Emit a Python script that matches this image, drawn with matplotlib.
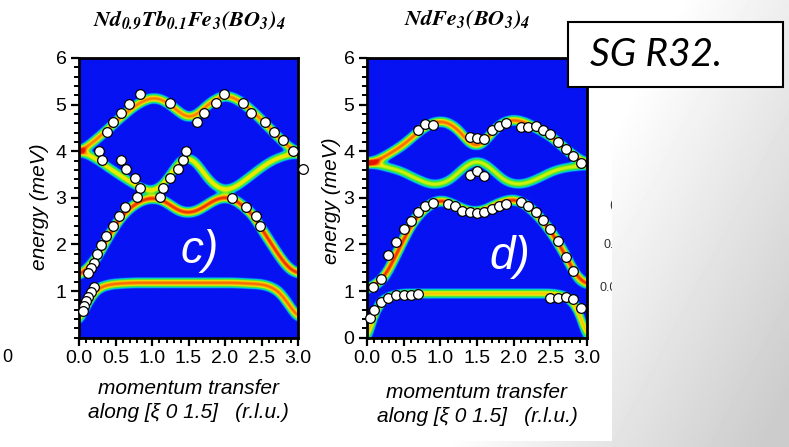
import numpy as np
import matplotlib.pyplot as plt
from matplotlib.colors import LinearSegmentedColormap
from matplotlib.ticker import MultipleLocator, FixedLocator
from matplotlib.patches import Rectangle

plt.rcParams['font.family'] = ['Liberation Sans', 'DejaVu Sans']
plt.rcParams['mathtext.fontset'] = 'stix'

W, H = 789, 447

# momentum values at which the calculated branches were read (r.l.u.)
q_knots = [0.0, 0.125, 0.25, 0.375, 0.5, 0.625, 0.75, 0.875, 1.0, 1.125, 1.25, 1.375, 1.5,
           1.625, 1.75, 1.875, 2.0, 2.125, 2.25, 2.375, 2.5, 2.625, 2.75, 2.875, 3.0]

# Nd0.9Tb0.1Fe3(BO3)4 - calculated branches (meV)
c_branch1 = [4.0, 4.12, 4.28, 4.45, 4.63, 4.8, 4.96, 5.08, 5.15, 5.12, 5.0, 4.84, 4.72, 4.8,
             4.98, 5.12, 5.2, 5.15, 5.03, 4.87, 4.68, 4.48, 4.28, 4.1, 3.98]
c_branch2 = [4.0, 3.93, 3.82, 3.68, 3.55, 3.42, 3.3, 3.2, 3.15, 3.25, 3.5, 3.78, 3.88, 3.72,
             3.45, 3.25, 3.17, 3.22, 3.35, 3.5, 3.65, 3.78, 3.87, 3.93, 3.95]
c_branch3 = [1.35, 1.5, 1.75, 2.1, 2.42, 2.68, 2.85, 2.96, 3.0, 2.97, 2.85, 2.72, 2.68, 2.73,
             2.85, 2.97, 3.02, 2.97, 2.83, 2.65, 2.35, 2.05, 1.75, 1.5, 1.38]
c_branch4 = [0.4, 0.78, 1.05, 1.13, 1.16, 1.17, 1.18, 1.18, 1.18, 1.18, 1.18, 1.18, 1.18, 1.18,
             1.18, 1.18, 1.18, 1.18, 1.17, 1.16, 1.15, 1.1, 0.98, 0.72, 0.45]
c_weights = [0.82, 0.62, 0.95, 0.85]

# NdFe3(BO3)4 - calculated branches (meV)
d_branch1 = [3.75, 3.8, 3.9, 4.02, 4.15, 4.32, 4.48, 4.6, 4.65, 4.6, 4.45, 4.22, 4.1, 4.25,
             4.48, 4.63, 4.68, 4.64, 4.55, 4.45, 4.33, 4.17, 4.0, 3.85, 3.75]
d_branch2 = [3.75, 3.72, 3.67, 3.62, 3.55, 3.45, 3.36, 3.29, 3.3, 3.38, 3.55, 3.72, 3.8, 3.72,
             3.55, 3.38, 3.3, 3.3, 3.36, 3.45, 3.55, 3.62, 3.66, 3.68, 3.7]
d_branch3 = [1.05, 1.15, 1.35, 1.72, 2.12, 2.48, 2.72, 2.88, 2.95, 2.9, 2.8, 2.72, 2.7, 2.75,
             2.85, 2.93, 2.97, 2.9, 2.75, 2.55, 2.3, 2.0, 1.65, 1.3, 1.15]
d_branch4 = [0.0, 0.62, 0.85, 0.92, 0.95, 0.95, 0.95, 0.95, 0.95, 0.95, 0.95, 0.95, 0.95, 0.95,
             0.95, 0.95, 0.95, 0.95, 0.95, 0.95, 0.95, 0.93, 0.86, 0.62, 0.05]
d_weights = [0.85, 0.55, 0.95, 0.68]

# measured points, panel c
c_q = [0.28, 0.32, 0.38, 0.47, 0.58, 0.68, 0.83, 1.24, 1.61, 1.71, 1.87, 1.99, 2.25, 2.36,
       2.55, 2.67, 2.80, 2.93, 0.57, 0.65, 0.77, 0.84, 0.79, 1.11, 1.15, 1.24, 1.36, 1.42,
       1.46, 2.09, 2.29, 2.43, 2.48, 0.63, 0.55, 0.46, 0.37, 0.30, 0.24, 0.20, 0.16, 0.13,
       0.21, 0.16, 0.12, 0.10, 0.07, 0.05, 3.07]
c_e = [4.00, 3.82, 4.42, 4.62, 4.82, 5.02, 5.23, 5.04, 4.62, 4.82, 5.03, 5.23, 5.03, 4.82,
       4.62, 4.42, 4.23, 4.01, 3.81, 3.62, 3.42, 3.21, 3.01, 3.01, 3.21, 3.42, 3.62, 3.82,
       4.01, 3.00, 2.81, 2.61, 2.39, 2.81, 2.61, 2.39, 2.19, 1.99, 1.79, 1.61, 1.50, 1.39,
       1.09, 0.98, 0.88, 0.79, 0.68, 0.57, 3.62]

# measured points, panel d
d_q = [0.69, 0.79, 0.90, 1.40, 1.50, 1.60, 1.70, 1.80, 1.90, 2.10, 2.20, 2.30, 2.40, 2.50,
       2.61, 2.71, 2.81, 2.92, 1.40, 1.50, 1.60,
       0.08, 0.19, 0.29, 0.40, 0.50, 0.60, 0.70, 0.79, 0.90, 1.10, 1.20, 1.30, 1.40, 1.50,
       1.60, 1.70, 1.80, 1.90, 2.10, 2.20, 2.30, 2.40, 2.50, 2.61, 2.71, 2.81,
       0.04, 0.09, 0.19, 0.29, 0.40, 0.50, 0.60, 0.70, 2.50, 2.61, 2.71, 2.81, 2.92]
d_e = [4.46, 4.59, 4.57, 4.31, 4.29, 4.27, 4.45, 4.54, 4.61, 4.52, 4.51, 4.54, 4.46, 4.36,
       4.20, 4.04, 3.90, 3.75, 3.50, 3.58, 3.46,
       1.09, 1.25, 1.78, 2.06, 2.32, 2.50, 2.69, 2.82, 2.88, 2.86, 2.83, 2.71, 2.70, 2.68,
       2.70, 2.75, 2.83, 2.87, 2.91, 2.82, 2.70, 2.53, 2.32, 2.08, 1.74, 1.42,
       0.41, 0.59, 0.77, 0.86, 0.91, 0.91, 0.91, 0.93, 0.86, 0.86, 0.88, 0.82, 0.64]

band_cmap = LinearSegmentedColormap.from_list('band', [
    (0.0, '#0612f2'), (0.10, '#0612f2'), (0.20, '#00d8ff'), (0.34, '#22e23a'),
    (0.58, '#f4f400'), (0.80, '#ff8200'), (1.0, '#e81000')])


def smooth(y, n=15):
    k = np.ones(n) / n
    yp = np.pad(y, n, mode='edge')
    for _ in range(2):
        yp = np.convolve(yp, k, mode='same')
    return yp[n:-n]


def spectrum(branches, weights):
    qq = np.linspace(0, 3, 361)
    ee = np.linspace(0, 6, 721)
    img = np.zeros((ee.size, qq.size))
    for e_vals, w in zip(branches, weights):
        e = smooth(np.interp(qq, q_knots, e_vals))
        slope = np.gradient(e, qq) * (46.6 / 73.3)
        sig = 0.06 * np.sqrt(1 + slope ** 2)
        img += w * np.exp(-0.5 * ((ee[:, None] - e[None, :]) / sig[None, :]) ** 2)
    return np.clip(img, 0, 1)


fig = plt.figure(figsize=(W / 100, H / 100), dpi=100)

# slide background gradient
gx, gy = np.meshgrid(np.arange(W), np.arange(H))
t = np.clip((gx - 600) / 189 * 0.6 + (gy - 150) / 297 * 0.5, 0, 1)
bg = fig.add_axes([0, 0, 1, 1])
bg.imshow(1 - 0.2 * t, cmap='gray', vmin=0, vmax=1, aspect='auto')
bg.axis('off')

# white screenshot area
paper = fig.add_axes([0, 6 / H, 612 / W, 441 / H])
paper.set_xlim(0, 612)
paper.set_ylim(441, 0)
paper.set_facecolor('white')
paper.set_xticks([])
paper.set_yticks([])
for s in paper.spines.values():
    s.set_visible(False)
paper.text(2, 357, '0', fontsize=13, ha='left', va='center')
paper.text(600, 288, '0.0', fontsize=9, ha='left', va='center', color='#333333', clip_on=True)
paper.text(603, 245, '0.', fontsize=9, ha='left', va='center', color='#333333', clip_on=True)
paper.text(609, 205, '(', fontsize=9, ha='left', va='center', color='#333333', clip_on=True)


def panel(rect, branches, weights, pq, pe, tag, tag_xy, yticks, lab_x, lab_y, xl_y):
    ax = fig.add_axes(rect)
    ax.imshow(spectrum(branches, weights), extent=[0, 3, 0, 6], origin='lower',
              aspect='auto', cmap=band_cmap, vmin=0, vmax=1, interpolation='bilinear')
    ax.plot(pq, pe, 'o', ms=7, mfc='white', mec='black', mew=0.9, clip_on=False, zorder=5)
    ax.set_xlim(0, 3)
    ax.set_ylim(0, 6)
    ax.xaxis.set_major_locator(MultipleLocator(0.5))
    ax.xaxis.set_minor_locator(MultipleLocator(0.1))
    ax.yaxis.set_major_locator(FixedLocator(yticks))
    ax.yaxis.set_minor_locator(MultipleLocator(0.2))
    ax.set_xticklabels(['%.1f' % v for v in ax.get_xticks()])
    ax.tick_params(which='major', direction='out', length=6, width=1.6, labelsize=14, pad=3)
    ax.tick_params(which='minor', direction='out', length=3.5, width=1.4)
    for s in ax.spines.values():
        s.set_linewidth(2)
    ax.set_ylabel('energy (meV)', fontsize=15, style='italic')
    ax.yaxis.set_label_coords(lab_x, lab_y)
    ax.text(0.5, xl_y[0], 'momentum transfer', transform=ax.transAxes, ha='center',
            va='center', fontsize=15, style='italic')
    ax.text(0.5, xl_y[1], 'along [\u03be 0 1.5]   (r.l.u.)', transform=ax.transAxes,
            ha='center', va='center', fontsize=15, style='italic')
    ax.text(tag_xy[0], tag_xy[1], tag, color='white', fontsize=33, style='italic',
            ha='center', va='center')
    return ax


y0 = 1 - 337.6 / H
hgt = (337.6 - 58) / H
panel([79 / W, y0, 219 / W, hgt], [c_branch1, c_branch2, c_branch3, c_branch4], c_weights,
      c_q, c_e, 'c)', (1.65, 1.85), [1, 2, 3, 4, 5, 6], -0.137, 0.47,
      ((337.6 - 388) / 279.6, (337.6 - 412) / 279.6))
panel([367 / W, y0, 220 / W, hgt], [d_branch1, d_branch2, d_branch3, d_branch4], d_weights,
      d_q, d_e, 'd)', (1.95, 1.74), [0, 1, 2, 3, 4, 5, 6], -0.118, 0.49,
      ((337.6 - 393) / 279.6, (337.6 - 417) / 279.6))

fig.text(190 / W, 1 - 20 / H, r'$\mathbfit{Nd_{0.9}Tb_{0.1}Fe_{3}(BO_{3})_{4}}$',
         ha='center', va='center', fontsize=16)
fig.text(467 / W, 1 - 19 / H, r'$\mathbfit{NdFe_{3}(BO_{3})_{4}}$',
         ha='center', va='center', fontsize=16)

fig.add_artist(Rectangle((568 / W, 1 - 87 / H), 215 / W, 65 / H, transform=fig.transFigure,
                         facecolor='white', edgecolor='black', linewidth=1.5))
fig.text(590 / W, 1 - 55 / H, 'SG R32.', ha='left', va='center', fontsize=28,
         style='italic', family=['Lato', 'DejaVu Sans'])

fig.savefig('out.png', dpi=100)
